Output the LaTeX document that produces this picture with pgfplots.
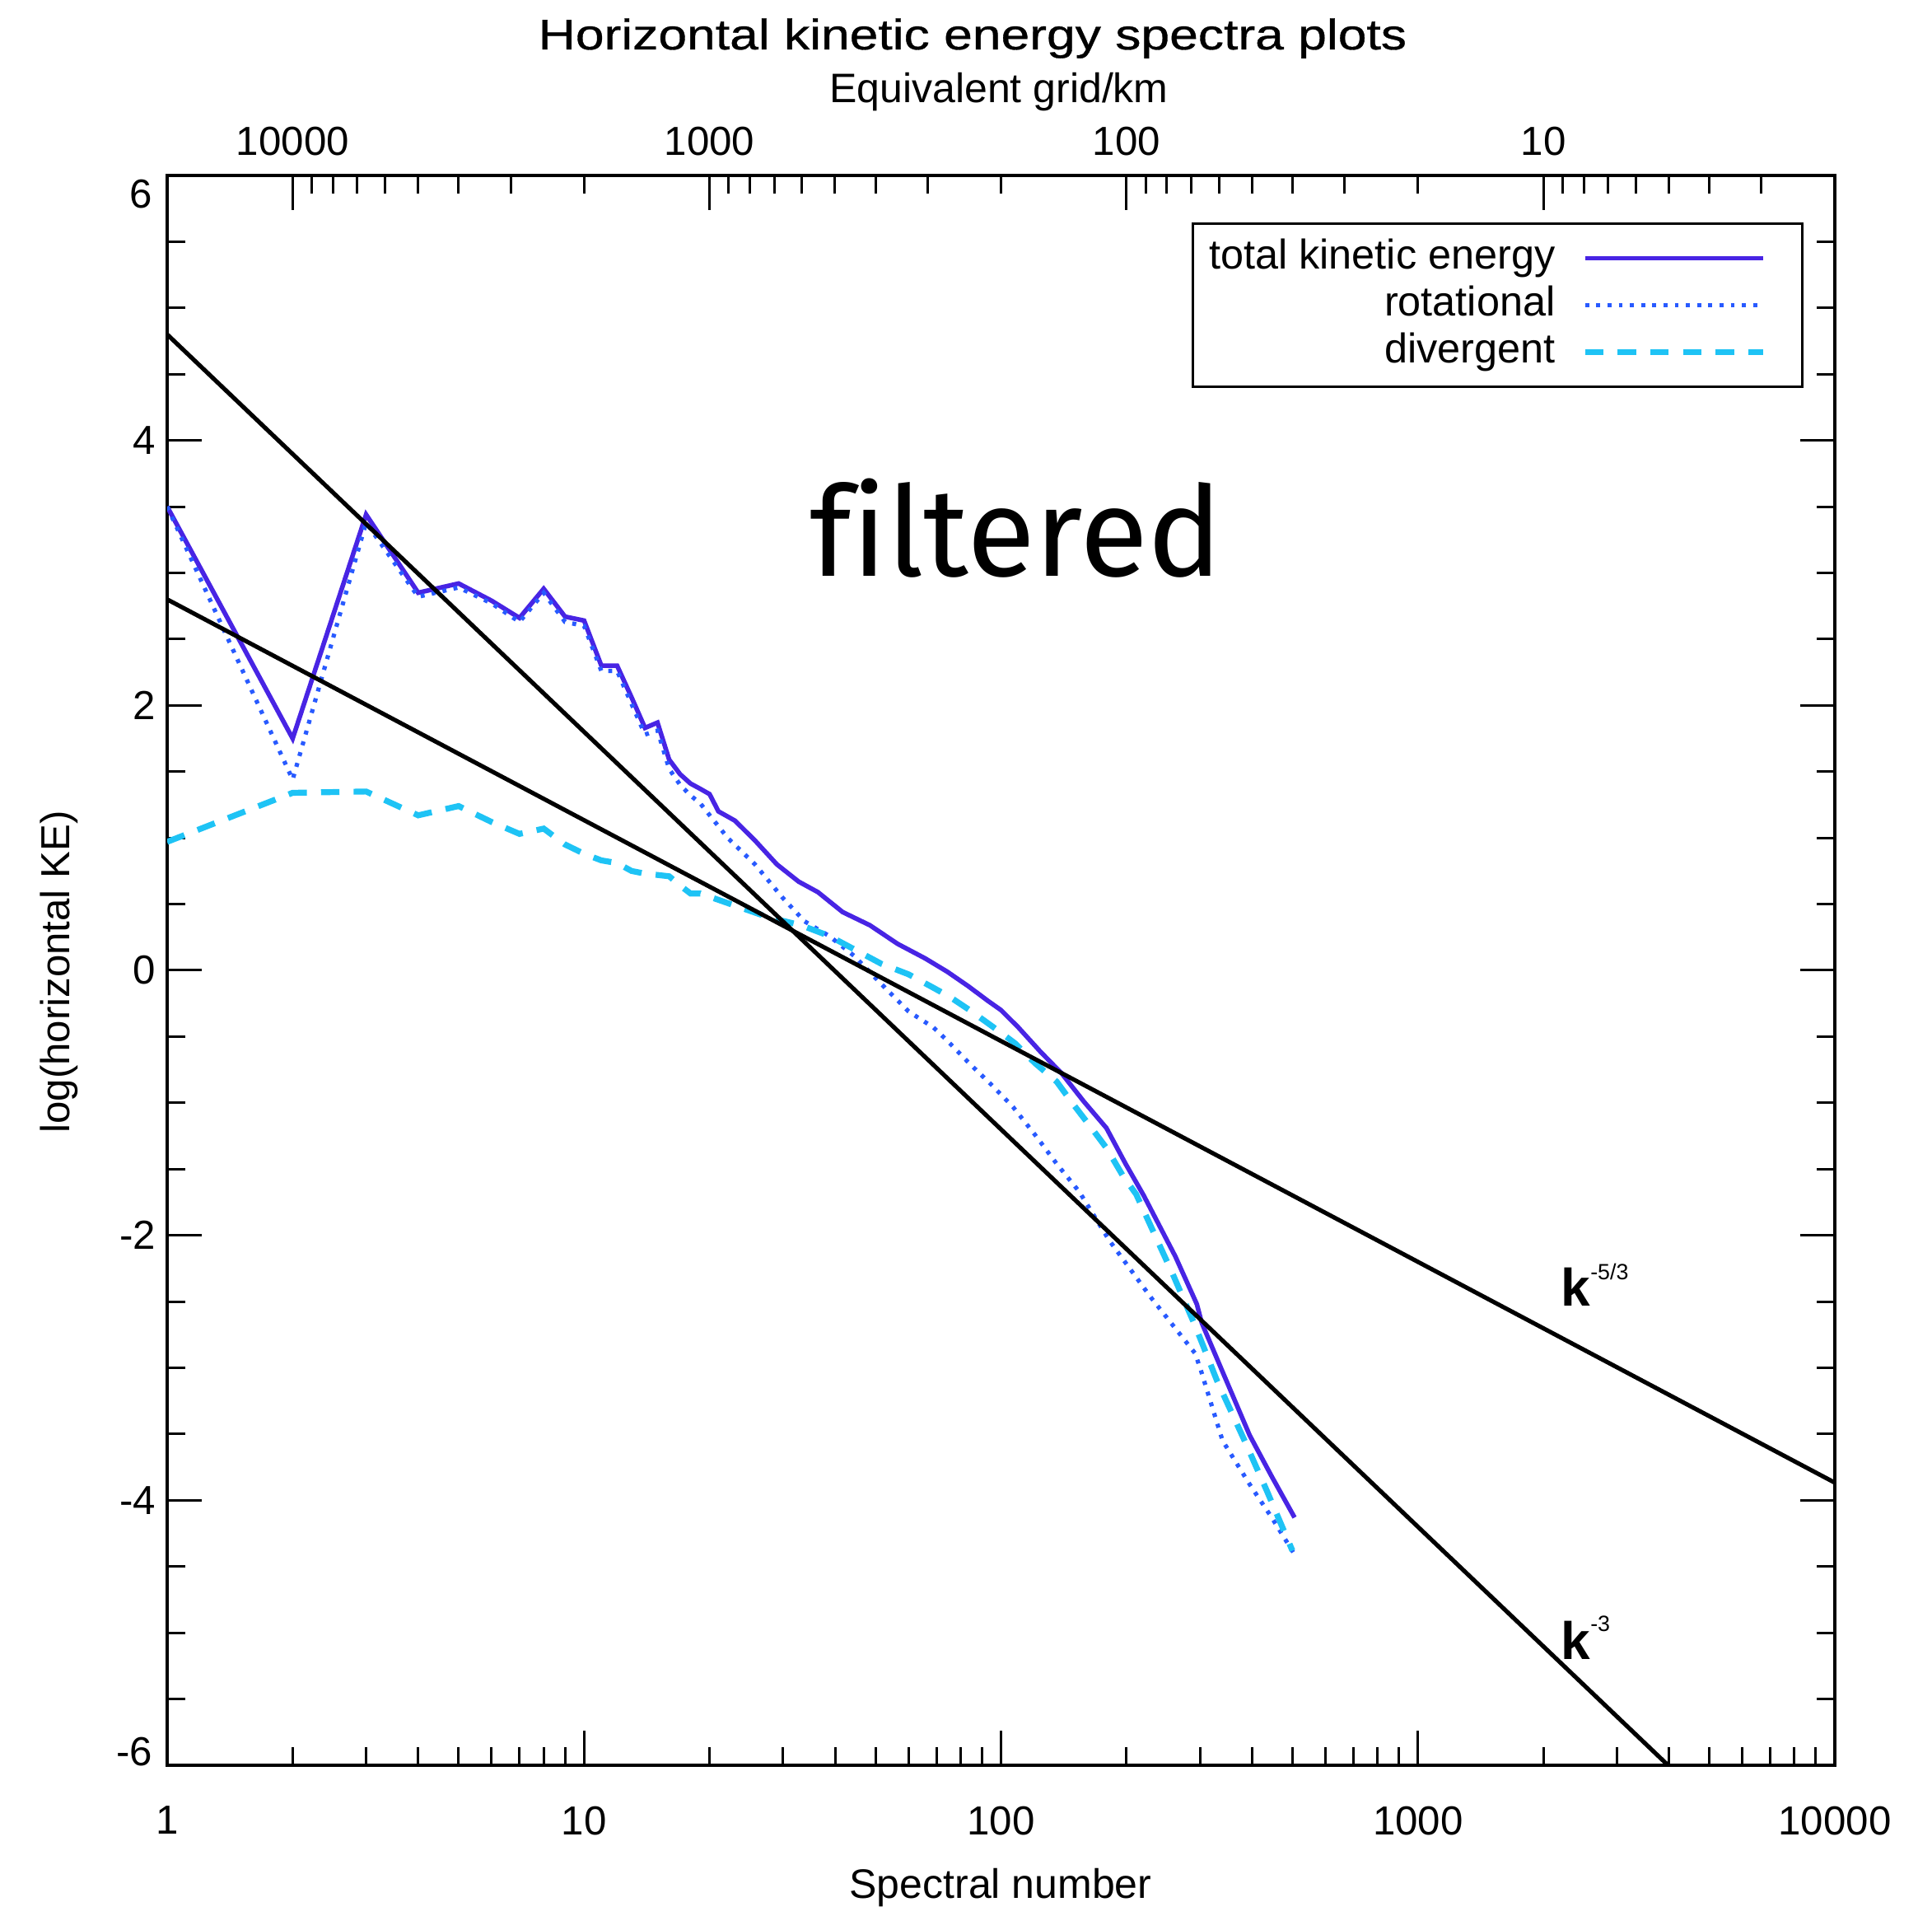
\documentclass[border=0pt]{standalone}
\usepackage{pgfplots}
\pgfplotsset{compat=1.18}
\usepackage{fontspec}
\setmainfont{Liberation Sans}
\newfontfamily\firafont[Ligatures=NoCommon]{Fira Sans}
\newfontfamily\titlefont[FakeBold=0.6]{Liberation Sans}
\definecolor{ctot}{RGB}{72,36,228}
\definecolor{crot}{RGB}{40,90,255}
\definecolor{cdiv}{RGB}{30,195,245}
\begin{document}
\begin{tikzpicture}
\begin{axis}[
  name=main,
  at={(0pt,0pt)}, anchor=south west,
  scale only axis, width=506.25pt, height=482.5pt,
  xmode=log, xmin=1, xmax=10000, ymin=-6, ymax=6,
  xtick={1,10,100,1000,10000}, xticklabels={1,10,100,1000,10000},
  minor xtick={2,3,4,5,6,7,8,9,20,30,40,50,60,70,80,90,200,300,400,500,600,700,800,900,2000,3000,4000,5000,6000,7000,8000,9000},
  ytick={-6,-4,-2,0,2,4,6}, yticklabels={,-4,-2,0,2,4,},
  minor ytick={-5.5,-5,-4.5,-3.5,-3,-2.5,-1.5,-1,-0.5,0.5,1,1.5,2.5,3,3.5,4.5,5,5.5},
  xtick pos=left, ytick pos=both, yticklabel pos=left,
  tick align=inside,
  major tick length=10.5pt, minor tick length=5.5pt,
  every tick/.append style={black, line width=0.75pt},
  axis line style={line width=1pt},
  tick label style={font=\fontsize{12.3}{14}\selectfont},
  xticklabel style={yshift=-9pt},
  clip mode=individual,
  legend style={at={(1,1)}, anchor=north east, xshift=-9.5pt, yshift=-14.25pt,
    draw=black, line width=0.8pt, inner xsep=5pt, inner ysep=4.7pt,
    row sep=2.65pt, column sep=8.2pt,
    font=\fontsize{12.6}{14}\selectfont,
    nodes={inner sep=0pt, text height=9pt, text depth=2.6pt}},
  legend cell align=right, legend plot pos=right,
  legend image code/.code={\draw[#1] (0pt,0pt) -- (54pt,0pt); \path (60pt,0pt);},
]
\addplot[ctot, line width=1.4pt] coordinates {
(1,3.50) (2,1.75) (3,3.44) (4,2.85) (5,2.92) (6,2.79) (7,2.66) (8,2.88) (9,2.67) (10,2.64)
(11,2.30) (12,2.30) (13,2.06) (14,1.83) (15,1.87) (16,1.59) (17,1.48) (18,1.41) (19,1.37) (20,1.33)
(21,1.20) (23,1.13) (25.7,0.98) (29,0.80) (32.7,0.67) (36.4,0.59) (41.7,0.44) (48.5,0.34) (56.5,0.20)
(65.8,0.09) (74.3,-0.01) (83.5,-0.12) (93,-0.23) (100,-0.30) (110,-0.43) (124,-0.61) (140,-0.78)
(158,-0.99) (179,-1.19) (199,-1.46) (220,-1.70) (262,-2.16) (295,-2.52) (303,-2.66) (340,-3.03)
(395,-3.51) (446,-3.82) (506,-4.13)};
\addlegendentry{total kinetic energy}
\addplot[crot, line width=1.3pt, dash pattern=on 1.2pt off 2.2pt] coordinates {
(1,3.50) (2,1.44) (3,3.38) (4,2.82) (5,2.89) (6,2.77) (7,2.63) (8,2.85) (9,2.63) (10,2.60)
(11,2.26) (12,2.26) (13,2.01) (14,1.78) (15,1.81) (16,1.52) (17,1.40) (18,1.32) (19,1.26)
(22.1,1.00) (25.7,0.80) (29.9,0.55) (33.8,0.37) (38.7,0.26) (44.4,0.11) (50.8,-0.08) (60,-0.31)
(68.8,-0.43) (74.3,-0.53) (83.8,-0.70) (94.6,-0.86) (106.8,-1.03) (120.6,-1.24) (136,-1.46)
(154,-1.67) (182,-2.04) (229,-2.47) (292,-2.89) (301,-3.01) (340,-3.55) (395,-3.88) (446,-4.13)
(504,-4.40)};
\addlegendentry{rotational}
\addplot[cdiv, line width=1.8pt, dash pattern=on 5.6pt off 4.3pt] coordinates {
(1,0.97) (2,1.34) (3,1.35) (4,1.17) (5,1.24) (6,1.12) (7,1.03) (8,1.07) (9,0.95) (10,0.88)
(11,0.83) (12,0.81) (13,0.75) (14,0.73) (15,0.72) (16,0.71) (17,0.64) (18,0.58) (19,0.58)
(21.1,0.53) (27.7,0.40) (33.2,0.34) (38.7,0.26) (45,0.15) (51.6,0.05) (60,-0.03) (67.8,-0.12)
(75.4,-0.20) (85,-0.31) (96,-0.43) (108,-0.55) (120.6,-0.70) (136,-0.84) (149,-1.01) (163,-1.17)
(179,-1.34) (196,-1.55) (211,-1.69) (258,-2.29) (292,-2.68) (330,-3.10) (384,-3.55) (433,-3.92)
(500,-4.38)};
\addlegendentry{divergent}
\addplot[black, line width=1.3pt, forget plot] coordinates {(1,4.8) (3981,-6)};
\addplot[black, line width=1.3pt, forget plot] coordinates {(1,2.8) (10000,-3.867)};
\node[anchor=base west, inner sep=0pt] at (axis cs:2198,-2.531) {\fontsize{16}{16}\selectfont\bfseries k\raisebox{8pt}{\mdseries\fontsize{6.7}{7}\selectfont -5/3}};
\node[anchor=base west, inner sep=0pt] at (axis cs:2198,-5.198) {\fontsize{16}{16}\selectfont\bfseries k\raisebox{8.5pt}{\mdseries\fontsize{6.7}{7}\selectfont -3}};
\node[anchor=base, inner sep=0pt] at (axis cs:108.8,2.976) {\firafont\fontsize{38}{38}\selectfont filtered};
\node[anchor=east, inner sep=0pt, font=\fontsize{12.3}{14}\selectfont] at (axis cs:1,5.857) [xshift=-4.3pt] {6};
\node[anchor=east, inner sep=0pt, font=\fontsize{12.3}{14}\selectfont] at (axis cs:1,-5.90) [xshift=-4.3pt] {-6};
\end{axis}
\begin{axis}[
  at={(0pt,0pt)}, anchor=south west,
  scale only axis, width=506.25pt, height=482.5pt,
  xmode=log, xmin=2, xmax=20000, x dir=reverse, ymin=-6, ymax=6,
  hide y axis,
  xtick pos=right, xticklabel pos=right,
  xtick={10,100,1000,10000}, xticklabels={10,100,1000,10000},
  minor xtick={3,4,5,6,7,8,9,20,30,40,50,60,70,80,90,200,300,400,500,600,700,800,900,2000,3000,4000,5000,6000,7000,8000,9000},
  tick align=inside,
  major tick length=10.5pt, minor tick length=5.5pt,
  every tick/.append style={black, line width=0.75pt},
  axis line style={line width=1pt},
  tick label style={font=\fontsize{12.3}{14}\selectfont},
  xticklabel style={yshift=2.4pt},
]
\addplot[draw=none, forget plot] coordinates {(10,0)};
\end{axis}
\node[anchor=base] at (244.5pt,520.75pt) {\scalebox{1.2}[1]{\titlefont\fontsize{13}{15}\selectfont Horizontal kinetic energy spectra plots}};
\node[anchor=base] at (252.5pt,504.5pt) {\fontsize{12.5}{14}\selectfont Equivalent grid/km};
\node[anchor=base] at (253pt,-40.25pt) {\fontsize{12.5}{14}\selectfont Spectral number};
\node[anchor=base, rotate=90] at (-29.5pt,240.75pt) {\fontsize{12.3}{14}\selectfont log(horizontal KE)};
\pgfresetboundingbox
\path[use as bounding box] (-50.75pt,-45.5pt) rectangle (535.75pt,535.75pt);
\end{tikzpicture}
\end{document}
